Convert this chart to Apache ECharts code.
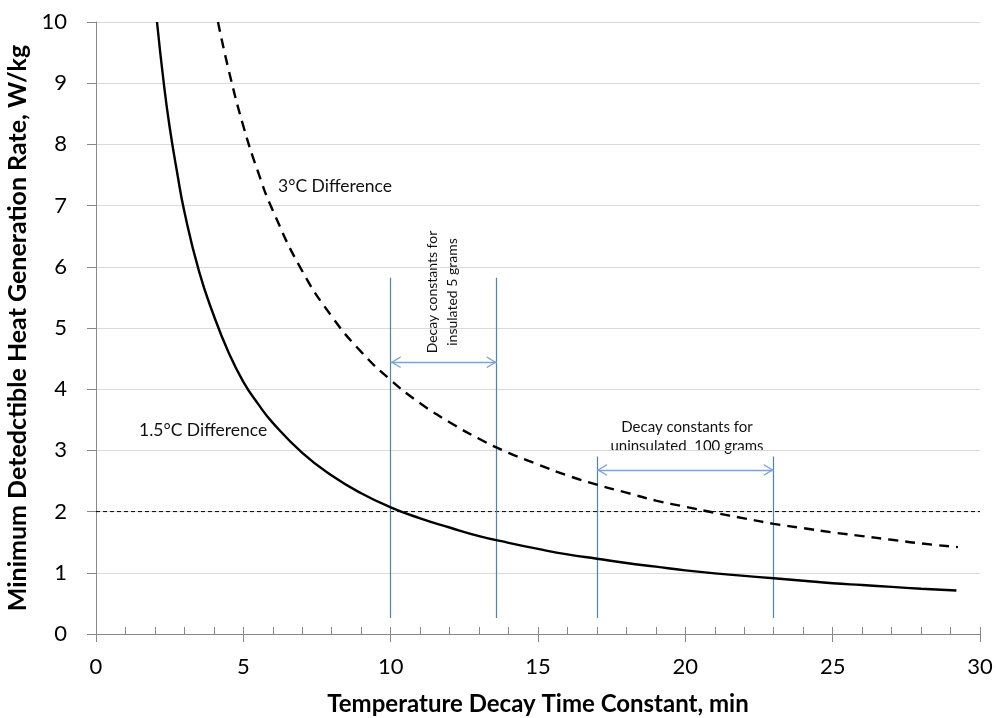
<!DOCTYPE html>
<html><head><meta charset="utf-8">
<script src="https://cdn.jsdelivr.net/npm/echarts@6/dist/echarts.min.js"></script>
<style>html,body{margin:0;padding:0;background:#fff}#c{width:996px;height:718px}</style>
</head><body><div id="c"></div>
<script>
// Data
var solidX = [2.07, 2.3, 2.5, 2.75, 3, 3.5, 4, 4.5, 5, 5.5, 6, 7, 8, 9, 10, 11, 12, 13, 14, 15, 16, 17, 18, 19, 20, 21, 22, 23, 24, 25, 26, 27, 28, 29.2];
var solidY = [10, 9.0, 8.28, 7.55, 6.9, 5.92, 5.2, 4.6, 4.12, 3.76, 3.45, 2.96, 2.59, 2.3, 2.07, 1.89, 1.74, 1.6, 1.49, 1.39, 1.3, 1.23, 1.16, 1.1, 1.04, 0.99, 0.95, 0.91, 0.87, 0.83, 0.8, 0.77, 0.74, 0.71];
var dashX = [4.14, 4.5, 5, 5.5, 6, 7, 8, 9, 10, 11, 12, 13, 14, 15, 16, 17, 18, 19, 20, 21, 22, 23, 24, 25, 26, 27, 28, 29.25];
var dashY = [10, 9.22, 8.3, 7.55, 6.92, 5.93, 5.19, 4.61, 4.15, 3.77, 3.46, 3.19, 2.96, 2.77, 2.59, 2.44, 2.31, 2.18, 2.08, 1.98, 1.89, 1.8, 1.73, 1.66, 1.6, 1.54, 1.48, 1.42];
var thresholdY = 2;
var tallBandX = [10, 13.6];
var tallBandY = [0.26, 5.82];
var tallArrowY = 4.44;
var shortBandX = [17, 23];
var shortBandY = [0.26, 2.9];
var shortArrowY = 2.68;
var xTicks = [0, 5, 10, 15, 20, 25, 30];
var yTicks = [0, 1, 2, 3, 4, 5, 6, 7, 8, 9, 10];

var FONT = 'Lato, "Open Sans", sans-serif';
var BLUE = '#4f81bd';
var ARROW_BLUE = '#7aa3d6';
// open chevron whose tip sits at the centre of the symbol box
var chevron = 'path://M5,0 L5.001,0 L5,0.001 Z M0,20 L5,10 L10,20 L8.8,20 L5,12.4 L1.2,20 Z';

function pairs(xs, ys) { return xs.map(function (x, i) { return [x, ys[i]]; }); }

var chart = echarts.init(document.getElementById('c'), null, {renderer: 'canvas'});

function vline(x, y0, y1) {
  return [{coord: [x, y0], symbol: 'none'}, {coord: [x, y1], symbol: 'none'}];
}
function harrow(x0, x1, y) {
  return [{coord: [x0, y], symbol: chevron}, {coord: [x1, y], symbol: chevron}];
}

var option = {
  animation: false,
  backgroundColor: '#fff',
  grid: {left: 96, right: 16, top: 22, bottom: 84, containLabel: false, outerBoundsMode: 'none'},
  xAxis: [{
    type: 'value', min: xTicks[0], max: xTicks[xTicks.length - 1], interval: 5,
    name: 'Temperature Decay Time Constant, min', nameLocation: 'middle', nameGap: 58,
    nameTextStyle: {fontFamily: FONT, fontSize: 24, fontWeight: 'bold', color: '#000'},
    axisLine: {lineStyle: {color: '#888', width: 1}},
    axisTick: {show: true, length: 8, lineStyle: {color: '#888'}},
    axisLabel: {fontFamily: FONT, fontSize: 22, color: '#000', margin: 22},
    splitLine: {show: false}
  }, {
    type: 'value', min: xTicks[0], max: xTicks[xTicks.length - 1], interval: 1, position: 'bottom',
    axisLine: {show: false},
    axisTick: {show: true, inside: true, length: 7, lineStyle: {color: '#888'}},
    axisLabel: {show: false}, splitLine: {show: false}
  }],
  yAxis: {
    type: 'value', min: yTicks[0], max: yTicks[yTicks.length - 1], interval: 1,
    name: 'Minimum Detedctible Heat Generation Rate, W/kg', nameLocation: 'middle', nameGap: 53,
    nameTextStyle: {fontFamily: FONT, fontSize: 25, fontWeight: 'bold', color: '#000'},
    axisLine: {show: true, lineStyle: {color: '#888', width: 1}},
    axisTick: {show: true, length: 9, lineStyle: {color: '#888'}},
    axisLabel: {fontFamily: FONT, fontSize: 22, color: '#000', margin: 29},
    splitLine: {show: true, lineStyle: {color: '#d9d9d9', width: 1}}
  },
  series: [{
    name: '1.5°C Difference', type: 'line', smooth: true, symbol: 'none',
    data: pairs(solidX, solidY),
    lineStyle: {color: '#000', width: 2.4}, z: 5,
    markLine: {
      silent: true, symbol: 'none', label: {show: false},
      lineStyle: {color: BLUE, width: 1.2, type: 'solid'},
      data: [
        vline(tallBandX[0], tallBandY[0], tallBandY[1]),
        vline(tallBandX[1], tallBandY[0], tallBandY[1]),
        vline(shortBandX[0], shortBandY[0], shortBandY[1]),
        vline(shortBandX[1], shortBandY[0], shortBandY[1])
      ]
    }
  }, {
    name: '3°C Difference', type: 'line', smooth: true, symbol: 'none',
    data: pairs(dashX, dashY),
    lineStyle: {color: '#000', width: 2.4, type: [10, 7]}, z: 5,
    markLine: {
      silent: true, symbol: chevron, symbolSize: [12, 20], label: {show: false},
      lineStyle: {color: ARROW_BLUE, width: 1.4, type: 'solid'},
      data: [
        harrow(tallBandX[0], tallBandX[1], tallArrowY),
        harrow(shortBandX[0], shortBandX[1], shortArrowY)
      ]
    }
  }, {
    name: 'threshold', type: 'line', symbol: 'none',
    data: [[xTicks[0], thresholdY], [xTicks[xTicks.length - 1], thresholdY]],
    lineStyle: {color: '#000', width: 1, type: [4, 3]}, z: 4
  }],
  graphic: [
    {type: 'text', left: 278, top: 177, style: {text: '3°C Difference', font: '17.5px ' + FONT, fill: '#111'}},
    {type: 'text', left: 139, top: 421, style: {text: '1.5°C Difference', font: '17.5px ' + FONT, fill: '#111'}},
    {type: 'text', x: 442, y: 292, rotation: Math.PI / 2,
      style: {text: 'Decay constants for\ninsulated 5 grams', font: '14px ' + FONT, fill: '#111',
        align: 'center', verticalAlign: 'middle', lineHeight: 20}},
    {type: 'text', x: 687, y: 437,
      style: {text: 'Decay constants for\nuninsulated  100 grams', font: '15px ' + FONT, fill: '#111',
        align: 'center', verticalAlign: 'middle', lineHeight: 19}}
  ]
};
chart.setOption(option);
</script></body></html>
